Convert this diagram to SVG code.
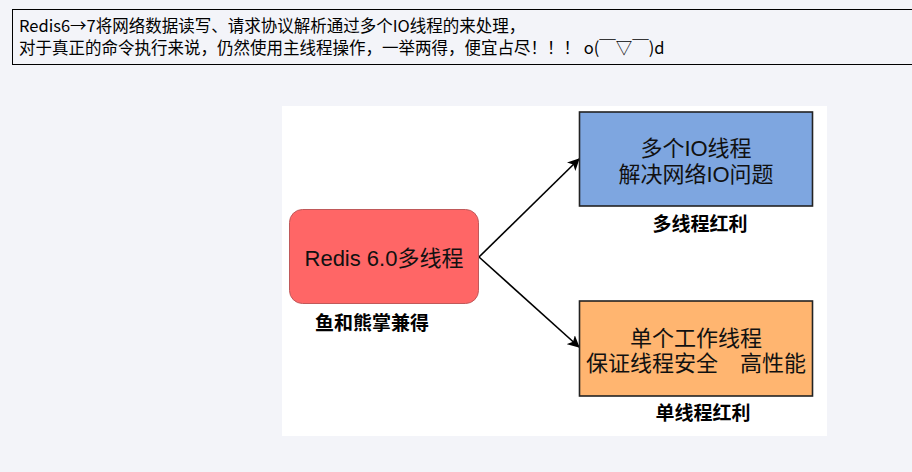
<svg xmlns="http://www.w3.org/2000/svg" width="912" height="472" viewBox="0 0 912 472">
<style>
.top{font-family:"Noto Sans CJK SC","Liberation Sans",sans-serif;font-size:16.5px;fill:#000}
.big{font-family:"Liberation Sans","Noto Sans CJK SC",sans-serif;font-size:22px;fill:#111;text-anchor:middle}
.lbl{font-family:"Noto Sans CJK SC",sans-serif;font-size:19px;font-weight:bold;fill:#000;text-anchor:middle}
.edge{stroke:#000;stroke-width:1.6;fill:none}
</style>
<defs>
<marker id="ah" viewBox="0 0 12 12" refX="11" refY="6" markerWidth="12" markerHeight="12" markerUnits="userSpaceOnUse" orient="auto">
<path d="M0,0 L12,6 L0,12 L3,6 Z" fill="#000"/>
</marker>
</defs>
<rect width="912" height="472" fill="#f3f4f9"/>
<g id="header">
<rect x="12.5" y="9.5" width="910" height="55" fill="none" stroke="#000" stroke-width="1"/>
<text class="top" x="19" y="32">Redis6→7将网络数据读写、请求协议解析通过多个IO线程的来处理，</text>
<text class="top" x="19" y="54">对于真正的命令执行来说，仍然使用主线程操作，一举两得，便宜占尽！！！ o(￣▽￣)d</text>
</g>
<rect x="282" y="106" width="545" height="330" fill="#ffffff"/>
<g id="connectors">
<line class="edge" x1="479" y1="257" x2="579" y2="159" marker-end="url(#ah)"/>
<line class="edge" x1="479" y1="257" x2="579" y2="347" marker-end="url(#ah)"/>
</g>
<g id="redis">
<rect x="289.5" y="209.5" width="189" height="94" rx="13" fill="#ff6666" stroke="#c0595a" stroke-width="1"/>
<text class="big" x="384" y="266">Redis 6.0多线程</text>
<text class="lbl" x="372" y="330">鱼和熊掌兼得</text>
</g>
<g id="multi">
<rect x="579.5" y="112" width="233" height="94" fill="#7ea6e0" stroke="#222" stroke-width="1.6"/>
<text class="big" x="696" y="156">多个IO线程</text>
<text class="big" x="696" y="182">解决网络IO问题</text>
<text class="lbl" x="700" y="231">多线程红利</text>
</g>
<g id="single">
<rect x="579.5" y="301" width="233" height="95" fill="#ffb570" stroke="#222" stroke-width="1.6"/>
<text class="big" x="696" y="346">单个工作线程</text>
<text class="big" x="696" y="371" xml:space="preserve">保证线程安全　高性能</text>
<text class="lbl" x="703" y="420">单线程红利</text>
</g>
</svg>
